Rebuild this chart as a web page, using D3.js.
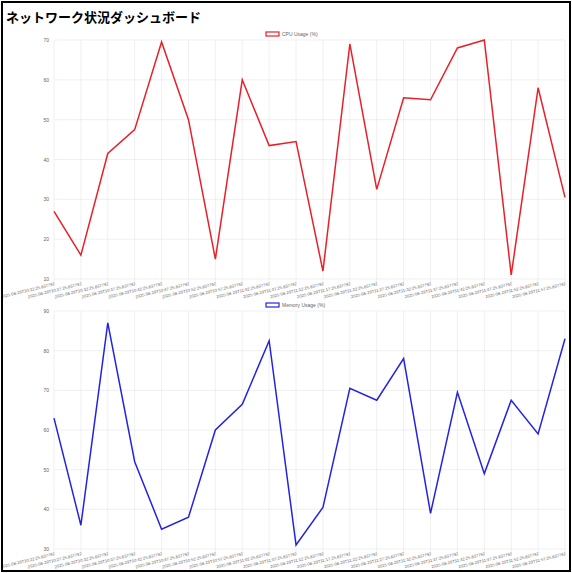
<!DOCTYPE html>
<html><head><meta charset="utf-8">
<script src="https://cdn.jsdelivr.net/npm/d3@7"></script>
<style>
body{margin:0;background:#fff;font-family:"Noto Sans CJK JP",sans-serif}
#wrap{position:absolute;left:1px;top:1px;width:566px;height:567px;border:2px solid #000}
</style></head><body>
<div id="wrap"><svg id="c" width="566" height="567"></svg></div>
<script>
// timestamps, 5 minutes apart
var times = [];
for (var i = 0; i < 20; i++) {
  var m = 22 + i * 5, h = 10 + Math.floor(m / 60);
  times.push("2025-08-29T" + h + ":" + String(m % 60).padStart(2, "0") + ":25.837792");
}
var cpuValues = [27,16,41.5,47.5,69.5,50,15,60,43.5,44.5,12,69,32.5,55.5,55,68,70,11,58,30.5];
var memValues = [63,36,87,52,35,38,60,66.5,82.5,31,40.5,70.5,67.5,78,39,69.5,49,67.5,59,83];
var cpuTicks = [10,20,30,40,50,60,70];
var memTicks = [30,40,50,60,70,80,90];

var svg = d3.select("#c");
svg.append("text").attr("x", 3).attr("y", 19).attr("font-size", 13).attr("font-weight", "bold")
  .text("ネットワーク状況ダッシュボード");

function drawChart(vals, ticks, color, label, top, bottom) {
  var x = d3.scalePoint().domain(times).range([51, 562]);
  var y = d3.scaleLinear().domain([ticks[0], ticks[ticks.length - 1]]).range([bottom, top]);
  var g = svg.append("g");
  // grid
  g.selectAll(".h").data(ticks).enter().append("line")
    .attr("x1", 51).attr("x2", 562).attr("y1", d => y(d)).attr("y2", d => y(d))
    .attr("stroke", "#e6e6e6").attr("stroke-width", 0.6);
  g.selectAll(".v").data(times).enter().append("line")
    .attr("x1", d => x(d)).attr("x2", d => x(d)).attr("y1", top).attr("y2", bottom + 3)
    .attr("stroke", "#e6e6e6").attr("stroke-width", 0.6);
  g.selectAll(".yt").data(ticks).enter().append("text")
    .attr("x", 46).attr("y", d => y(d) + 2).attr("text-anchor", "end")
    .attr("font-size", 5).attr("fill", "#666").attr("font-family", "Liberation Sans").text(d => d);
  g.selectAll(".xt").data(times).enter().append("text")
    .attr("transform", d => "translate(" + (x(d) + 1) + "," + (bottom + 6) + ") rotate(-14)")
    .attr("text-anchor", "end").attr("font-size", 4.2).attr("fill", "#666")
    .attr("font-family", "Liberation Sans").text(d => d);
  g.append("path").datum(vals)
    .attr("d", d3.line().x((d, i) => x(times[i])).y(d => y(d)))
    .attr("fill", "none").attr("stroke", color).attr("stroke-width", 1.5);
  // legend
  g.append("rect").attr("x", 263).attr("y", top - 8).attr("width", 13).attr("height", 4)
    .attr("fill", "none").attr("stroke", color).attr("stroke-width", 1.2);
  g.append("text").attr("x", 279).attr("y", top - 4).attr("font-size", 5).attr("fill", "#666")
    .attr("font-family", "Liberation Sans").text(label);
}
drawChart(cpuValues, cpuTicks, "#e8202a", "CPU Usage (%)", 37, 276);
drawChart(memValues, memTicks, "#2424e0", "Memory Usage (%)", 308, 546);
</script></body></html>
